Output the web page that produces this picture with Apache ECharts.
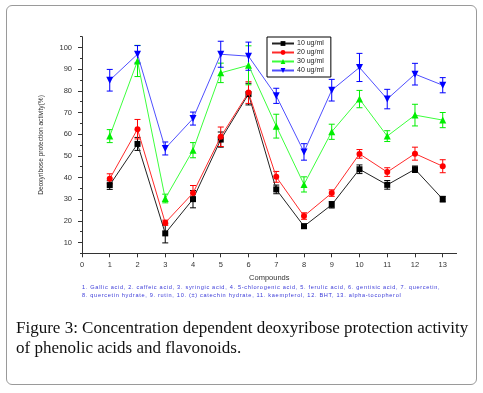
<!DOCTYPE html>
<html>
<head>
<meta charset="utf-8">
<script src="https://cdn.jsdelivr.net/npm/echarts@6/dist/echarts.min.js"></script>
<style>
html,body{margin:0;padding:0;background:#fff;}
#wrap{position:relative;width:483px;height:393px;overflow:hidden;}
#frame{position:absolute;left:6px;top:5px;width:469px;height:378px;border:1.5px solid #9a9a9a;border-radius:6px;}
#chart{position:absolute;left:0;top:0;width:483px;height:393px;}
#note{position:absolute;left:82px;top:284px;font-family:"Liberation Sans",Arial,sans-serif;font-size:5.6px;letter-spacing:0.69px;color:#3a3ad8;line-height:7.6px;white-space:nowrap;}
#cap{position:absolute;left:16px;top:318px;font-family:"Liberation Serif","Times New Roman",serif;font-size:17px;line-height:20px;color:#111;white-space:nowrap;}
</style>
</head>
<body>
<div id="wrap">
<div id="frame"></div>
<div id="chart"></div>
<div id="note">1. Gallic acid, 2. caffeic acid, 3. syringic acid, 4. 5-chlorogenic acid, 5. ferulic acid, 6. gentisic acid, 7. quercetin,<br>8. quercetin hydrate, 9. rutin, 10. (±) catechin hydrate, 11. kaempferol, 12. BHT, 13. alpha-tocopherol</div>
<div id="cap">Figure 3: Concentration dependent deoxyribose protection activity<br>of phenolic acids and flavonoids.</div>
</div>
<script>
const compounds = [1,2,3,4,5,6,7,8,9,10,11,12,13];
const seriesNames = ['10 ug/ml','20 ug/ml','30 ug/ml','40 ug/ml'];
const vals10 = [36.5, 55.5, 14.2, 30.0, 57.5, 78.5, 34.5, 17.5, 27.4, 43.8, 36.6, 43.8, 30.0];
const err10  = [2, 3, 4.4, 4, 3.5, 5, 2, 1, 1.5, 2, 2, 1.5, 1.3];
const vals20 = [39.4, 62.3, 19.1, 32.8, 58.8, 79.2, 40.3, 22.2, 32.8, 50.9, 42.5, 51.0, 45.2];
const err20  = [2.3, 4.5, 1.2, 3.5, 4.5, 5, 2.5, 1.5, 1.5, 2, 2, 3, 3];
const vals30 = [59.1, 93.8, 30.3, 52.6, 88.3, 91.8, 63.7, 36.8, 61.1, 76.2, 59.1, 68.8, 66.5];
const err30  = [3, 7.2, 2, 3.5, 4.5, 9, 5.5, 3.5, 3.5, 4, 2.5, 5, 3.5];
const vals40 = [84.9, 96.9, 53.4, 67.2, 96.9, 96.0, 77.7, 51.8, 80.3, 90.8, 76.2, 87.7, 82.6];
const err40  = [5, 4, 3, 3, 6, 6.5, 3.5, 3.8, 5, 6.5, 4.5, 5, 3.5];
const xTicks = [0,1,2,3,4,5,6,7,8,9,10,11,12,13];
const yMajor = [10,20,30,40,50,60,70,80,90,100];
const yMinor = [5,15,25,35,45,55,65,75,85,95,105];

const markColors = ['#000000','#ff0000','#00ee00','#0000ff'];
const lineColors = ['#222222','#ff2a2a','#3cff3c','#4f4fff'];
const symbols = ['rect','circle','triangle','path://M0,0L10,0L5,10Z'];
const sizes = [6,6,7,7];
const allVals = [vals10, vals20, vals30, vals40];
const allErr = [err10, err20, err30, err40];

const chart = echarts.init(document.getElementById('chart'), null, {renderer:'canvas'});
const labelFont = {fontFamily:'"Liberation Sans",Arial,sans-serif', color:'#333'};

const series = [];
allVals.forEach((vals, i) => {
  series.push({
    type:'line',
    name: seriesNames[i],
    xAxisIndex:0, yAxisIndex:0,
    data: compounds.map((c, k) => [c, vals[k]]),
    symbol: symbols[i],
    symbolSize: sizes[i],
    showAllSymbol:true,
    z: 3 + i,
    itemStyle:{color: markColors[i]},
    lineStyle:{color: lineColors[i], width:1},
    emphasis:{disabled:true},
    animation:false
  });
  series.push({
    type:'custom',
    name: seriesNames[i] + ' error',
    xAxisIndex:0, yAxisIndex:0,
    data: compounds.map((c, k) => [c, vals[k] - allErr[i][k], vals[k] + allErr[i][k]]),
    encode:{x:0, y:[1,2]},
    z: 2 + i,
    silent:true,
    renderItem: function(params, api){
      const x = api.value(0);
      const lo = api.coord([x, api.value(1)]);
      const hi = api.coord([x, api.value(2)]);
      const w = 3;
      const st = {stroke: markColors[i], lineWidth:1, fill:null};
      return {type:'group', children:[
        {type:'line', shape:{x1:lo[0], y1:lo[1], x2:hi[0], y2:hi[1]}, style:st},
        {type:'line', shape:{x1:hi[0]-w, y1:hi[1], x2:hi[0]+w, y2:hi[1]}, style:st},
        {type:'line', shape:{x1:lo[0]-w, y1:lo[1], x2:lo[0]+w, y2:lo[1]}, style:st}
      ]};
    }
  });
});

chart.setOption({
  animation:false,
  grid:{left:82, right:26.4, top:36.7, bottom:139.7, containLabel:false},
  legend:{
    data: seriesNames,
    orient:'vertical', left:267, top:37,
    itemWidth:22, itemHeight:6, itemGap:2,
    padding:[3,7,3,4],
    borderColor:'#000', borderWidth:1, backgroundColor:'#fff',
    selectedMode:false,
    textStyle:{fontSize:7, color:'#222', fontFamily:'"Liberation Sans",Arial,sans-serif', padding:[0,0,0,-2]}
  },
  xAxis:{
    type:'value', min:0, max:13.5,
    name:'Compounds', nameLocation:'middle', nameGap:20,
    nameTextStyle:Object.assign({fontSize:7.5}, labelFont),
    axisLine:{show:true, onZero:false, lineStyle:{color:'#333', width:1}},
    axisTick:{show:true, customValues:xTicks, length:4, lineStyle:{color:'#333'}},
    axisLabel:{customValues:xTicks, fontSize:7.5, margin:8, ...labelFont},
    splitLine:{show:false}
  },
  yAxis:[{
    type:'value', min:5, max:105, position:'left',
    name:'Deoxyribose protection activity(%)', nameLocation:'middle', nameGap:37, nameRotate:90,
    nameTextStyle:Object.assign({fontSize:6.6}, labelFont),
    axisLine:{show:true, onZero:false, lineStyle:{color:'#333', width:1}},
    axisTick:{show:true, customValues:yMajor, length:4, lineStyle:{color:'#333'}},
    axisLabel:{customValues:yMajor, fontSize:7.5, margin:10, ...labelFont},
    splitLine:{show:false}
  },{
    type:'value', min:5, max:105, position:'left', offset:0,
    axisLine:{show:false},
    axisTick:{show:true, customValues:yMinor, length:2, lineStyle:{color:'#333'}},
    axisLabel:{show:false},
    splitLine:{show:false}
  }],
  series: series
});
</script>
</body>
</html>
